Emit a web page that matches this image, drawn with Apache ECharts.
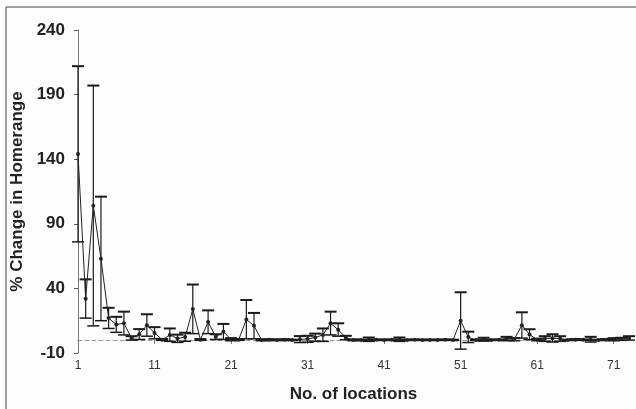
<!DOCTYPE html>
<html>
<head>
<meta charset="utf-8">
<script src="https://cdn.jsdelivr.net/npm/echarts@6/dist/echarts.min.js"></script>
<style>
	html, body {margin:0; padding:0; background:#fdfdf9;}
	#myChart {width:636px; height:409px;}
</style>
</head>
<body>
<div id="myChart"></div>
<script>
	// No. of locations
	var locations = [
		1, 2, 3, 4, 5, 6, 7, 8, 9, 10, 11, 12, 13, 14, 15, 16, 17, 18, 19, 20,
		21, 22, 23, 24, 25, 26, 27, 28, 29, 30, 31, 32, 33, 34, 35, 36, 37, 38, 39, 40,
		41, 42, 43, 44, 45, 46, 47, 48, 49, 50, 51, 52, 53, 54, 55, 56, 57, 58, 59, 60,
		61, 62, 63, 64, 65, 66, 67, 68, 69, 70, 71, 72, 73
	];
	// mean % change in homerange
	var meanChange = [
		144, 32, 104, 63, 17, 12, 13, 1.5, 4.5, 11.5,
		5.5, 0.3, 4, 1.2, 2.4, 24, 0.3, 14, 2.5, 6.5,
		0.5, 0.3, 16, 11, 0, 0.2, 0, 0.2, 0, 0.6,
		0.8, 2, 4, 13, 8, 1.8, 0, 0, 0.5, 0.2,
		0, 0.2, 0.5, 0, 0.2, 0, 0.1, 0, 0.2, 0,
		15, 2.3, 0, 0.5, 0, 0.2, 1, 0.5, 11.5, 4.4,
		0.3, 1, 1.5, 1, 0, 0.3, 0.2, 0.5, 0, 0.3,
		0.5, 0.8, 1.5
	];
	// error (+/-)
	var errChange = [
		68, 15, 93, 48, 8, 6, 9, 1.5, 4, 8.5,
		4.5, 0.5, 5, 3, 3.3, 19, 0.5, 9, 2, 6,
		1, 0.5, 15, 10, 0.5, 0.5, 0.3, 0.5, 0.3, 2.5,
		2.5, 3, 5, 9, 5, 1.5, 0.5, 0.3, 1.5, 0.3,
		0.3, 0.3, 1.5, 0.3, 0.3, 0.3, 0.3, 0.3, 0.3, 0.3,
		22, 4.2, 0.3, 1.3, 0.3, 0.3, 1.5, 1, 10, 4,
		0.8, 2, 3, 2, 0.3, 0.5, 0.3, 2, 0.3, 0.5,
		1, 1, 1.5
	];
	var yTicks = [-10, 40, 90, 140, 190, 240];

	var errData = meanChange.map(function (v, i) {
		return [i, v - errChange[i], v + errChange[i]];
	});

	var myChart = echarts.init(document.getElementById('myChart'));
	var option = {
		backgroundColor: '#fdfdf9',
		animation: false,
		textStyle: {fontFamily: 'Liberation Sans, Arial, sans-serif'},
		graphic: [
			{type: 'line', shape: {x1: 6, y1: 7, x2: 636, y2: 7}, style: {stroke: '#444', lineWidth: 1}},
			{type: 'line', shape: {x1: 6, y1: 7, x2: 6, y2: 409}, style: {stroke: '#444', lineWidth: 1}}
		],
		grid: {left: 78, right: 7, top: 30, bottom: 56, containLabel: false, outerBoundsMode: 'none'},
		xAxis: {
			type: 'category',
			data: locations,
			boundaryGap: false,
			axisLine: {onZero: true, lineStyle: {color: '#999', width: 1, type: [4, 3]}},
			axisTick: {show: true, interval: 9, length: 4, lineStyle: {color: '#777'}},
			axisLabel: {interval: 9, margin: 7, fontSize: 12, color: '#333',
				fontFamily: 'Liberation Sans Narrow, Liberation Sans, Arial, sans-serif'},
			splitLine: {show: false},
			name: 'No. of locations',
			nameLocation: 'middle',
			nameGap: 33,
			nameTextStyle: {fontSize: 17, fontWeight: 'bold', color: '#222'}
		},
		yAxis: {
			type: 'value',
			min: yTicks[0],
			max: yTicks[yTicks.length - 1],
			interval: 50,
			axisLine: {show: true, lineStyle: {color: '#777', width: 1}},
			axisTick: {show: true, length: 4, lineStyle: {color: '#555'}},
			axisLabel: {fontSize: 17, fontWeight: 'bold', color: '#222', margin: 13},
			splitLine: {show: false},
			name: '% Change in Homerange',
			nameLocation: 'middle',
			nameGap: 48,
			nameTextStyle: {fontSize: 17, fontWeight: 'bold', color: '#222'}
		},
		series: [
			{
				name: 'error',
				type: 'custom',
				data: errData,
				encode: {x: 0, y: [1, 2]},
				z: 3,
				renderItem: function (params, api) {
					var x = api.value(0);
					var lo = api.coord([x, api.value(1)]);
					var hi = api.coord([x, api.value(2)]);
					var half = 6;
					return {
						type: 'group',
						children: [
							{type: 'line', shape: {x1: hi[0], y1: hi[1], x2: lo[0], y2: lo[1]}, style: {stroke: '#1a1a1a', lineWidth: 1.2}},
							{type: 'line', shape: {x1: hi[0] - half, y1: hi[1], x2: hi[0] + half, y2: hi[1]}, style: {stroke: '#1a1a1a', lineWidth: 2}},
							{type: 'line', shape: {x1: lo[0] - half, y1: lo[1], x2: lo[0] + half, y2: lo[1]}, style: {stroke: '#1a1a1a', lineWidth: 1.5}}
						]
					};
				}
			},
			{
				name: 'mean',
				type: 'line',
				data: meanChange,
				z: 4,
				symbol: 'circle',
				symbolSize: 4,
				lineStyle: {color: '#222', width: 1},
				itemStyle: {color: '#222'}
			}
		]
	};
	myChart.setOption(option);
</script>
</body>
</html>
